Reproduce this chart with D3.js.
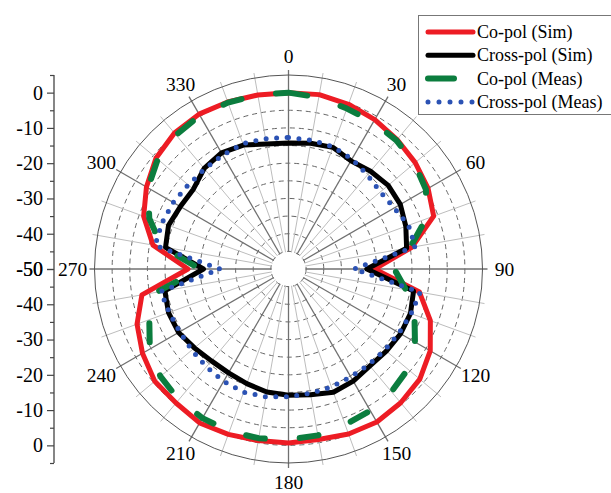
<!DOCTYPE html>
<html>
<head>
<meta charset="utf-8">
<script src="https://cdn.jsdelivr.net/npm/d3@7"></script>
<style>
body { margin: 0; background: #fff; }
svg { display: block; }
text { font-family: "Liberation Serif", "Times New Roman", serif; fill: #000; }
</style>
</head>
<body>
<script>
const angles = [0, 10, 20, 30, 40, 50, 60, 70, 80, 90, 100, 110, 120, 130, 140, 150, 160, 170,
	180, 190, 200, 210, 220, 230, 240, 250, 260, 270, 280, 290, 300, 310, 320, 330, 340, 350];

const coSim = [0, 0.2, -0.3, -1.1, -2.1, -3.1, -4.3, -6.2, -14.5, -25.6, -12.3, -7.2, -3.6, -1.4, -0.5, 0.1, -0.2, -0.9,
	-0.7, -0.6, -0.1, 0.4, -0.4, -0.5, -2.2, -4.3, -7.8, -21.5, -11, -6.3, -3.5, -1, 0.3, 0.7, 0.4, 0.1];

const crossSim = [-14.3, -13.8, -13.3, -14.6, -13.8, -13.1, -13.4, -14.6, -16, -27.8, -14, -13.2, -13.3, -13.8, -14.1, -13.3, -12.8, -13.8,
	-14.2, -14.6, -15.4, -16, -16, -15.2, -14, -13.8, -14.4, -25.9, -14.6, -13.8, -14.6, -14.8, -12.8, -12, -12.6, -14];

const coMeas = [0, -0.6, -1.6, -1.9, -2.4, -3.4, -5, -8.5, -15, -20, -16.2, -12, -8.6, -5.8, -4.6, -3.6, -3, -2.1,
	-1.6, -1.3, -1, -1.2, -1.6, -2.6, -4.6, -8, -12, -25, -13.5, -8, -4, -1.6, -0.4, 0.3, 0.2, 0.1];

const crossMeas = [-12.7, -12.9, -13.1, -14, -15.2, -16, -15.4, -13.8, -13.5, -31.5, -12.1, -13, -13.8, -14.3, -14.6, -14.7, -14.4, -14.2,
	-13.8, -13.2, -12.8, -13.2, -13.8, -14.2, -14.4, -14, -13.2, -30.6, -11.6, -11.8, -12.3, -12.9, -13, -12.7, -12.2, -12.5];

const angleLabels = [0, 30, 60, 90, 120, 150, 180, 210, 240, 270, 300, 330];
const ringLevels = [-45, -40, -35, -30, -25, -20, -15, -10, -5, 0];
const axisMajor = [0, -10, -20, -30, -40, -50];
const axisMinor = [5, -5, -15, -25, -35, -45];

const series = [
	{ name: 'Co-pol (Sim)', values: coSim, color: '#ed1c24', width: 5, dash: null },
	{ name: 'Cross-pol (Sim)', values: crossSim, color: '#000000', width: 5, dash: null },
	{ name: 'Co-pol (Meas)', values: coMeas, color: '#0b7d3e', width: 6, dash: '19,35' },
	{ name: 'Cross-pol (Meas)', values: crossMeas, color: '#2b52b4', width: 5, dash: '0,10.5' }
];

const w = 611;
const h = 493;
const cx = 288.5;
const cy = 269;
const rad = Math.PI / 180;

const r = d3.scaleLinear().domain([-50, 5]).range([0, 194]);

const svg = d3.select('body').append('svg')
	.attr('width', w)
	.attr('height', h);

const g = svg.append('g')
	.attr('transform', `translate(${cx},${cy})`);

// dashed rings
g.selectAll('.ring')
	.data(ringLevels)
	.enter()
	.append('circle')
	.attr('class', 'ring')
	.attr('r', d => r(d))
	.attr('fill', 'none')
	.attr('stroke', '#666')
	.attr('stroke-width', 1)
	.attr('stroke-dasharray', '5,4');

// spokes
g.selectAll('.spoke')
	.data(angles)
	.enter()
	.append('line')
	.attr('class', 'spoke')
	.attr('x1', d => Math.sin(d * rad) * 17)
	.attr('y1', d => -Math.cos(d * rad) * 17)
	.attr('x2', d => Math.sin(d * rad) * (r(5) + 5))
	.attr('y2', d => -Math.cos(d * rad) * (r(5) + 5))
	.attr('stroke', d => d % 30 === 0 ? '#707070' : '#bdbdbd')
	.attr('stroke-width', d => d % 30 === 0 ? 1.3 : 1);

// outer circle
g.append('circle')
	.attr('r', r(5))
	.attr('fill', 'none')
	.attr('stroke', '#555')
	.attr('stroke-width', 1);

// angle labels
g.selectAll('.alabel')
	.data(angleLabels)
	.enter()
	.append('text')
	.attr('class', 'alabel')
	.attr('x', d => Math.sin(d * rad) * 216)
	.attr('y', d => -Math.cos(d * rad) * 213)
	.attr('text-anchor', 'middle')
	.attr('dominant-baseline', 'central')
	.style('font-size', '19.5px')
	.text(d => d);

// traces
const line = d3.lineRadial()
	.angle((d, i) => angles[i] * rad)
	.radius(d => r(d))
	.curve(d3.curveLinearClosed);

g.selectAll('.trace')
	.data(series)
	.enter()
	.append('path')
	.attr('class', 'trace')
	.attr('d', d => line(d.values))
	.attr('fill', 'none')
	.attr('stroke', d => d.color)
	.attr('stroke-width', d => d.width)
	.attr('stroke-linecap', 'round')
	.attr('stroke-linejoin', 'round')
	.attr('stroke-dasharray', d => d.dash);

// left radial axis, mirrored about the centre
const yTop = d3.scaleLinear().domain([-50, 5]).range([cy, cy - r(5)]);
const yBot = d3.scaleLinear().domain([-50, 5]).range([cy, cy + r(5)]);

const axisG = svg.append('g').attr('transform', 'translate(54,0)');

[yTop, yBot].forEach(s => {
	axisG.append('g')
		.call(d3.axisLeft(s).tickValues(axisMajor).tickSize(7).tickSizeOuter(0).tickPadding(4).tickFormat(d => d))
		.call(a => a.select('.domain').remove())
		.call(a => a.selectAll('text').style('font-size', '20px').attr('font-family', null))
		.call(a => a.selectAll('line').attr('stroke', '#444').attr('stroke-width', 1.2));
	axisG.append('g')
		.call(d3.axisLeft(s).tickValues(axisMinor).tickSize(4).tickSizeOuter(0).tickFormat(''))
		.call(a => a.select('.domain').remove())
		.call(a => a.selectAll('line').attr('stroke', '#444').attr('stroke-width', 1.2));
});

axisG.append('line')
	.attr('y1', yTop(5))
	.attr('y2', yBot(5))
	.attr('stroke', '#444')
	.attr('stroke-width', 1.3);

// legend
const legend = svg.append('g');
legend.append('rect')
	.attr('x', 418.5)
	.attr('y', 15.5)
	.attr('width', 200)
	.attr('height', 99)
	.attr('fill', '#fff')
	.attr('stroke', '#777')
	.attr('stroke-width', 1);

const rows = legend.selectAll('.row')
	.data(series)
	.enter()
	.append('g')
	.attr('class', 'row')
	.attr('transform', (d, i) => `translate(0,${32 + i * 23.3})`);

rows.append('line')
	.attr('x1', 428)
	.attr('x2', d => d.dash && d.dash[0] === '1' ? 454 : 473)
	.attr('stroke', d => d.color)
	.attr('stroke-width', d => d.width)
	.attr('stroke-linecap', 'round')
	.attr('stroke-dasharray', d => d.dash && d.dash[0] === '0' ? '0,11' : null);

rows.append('text')
	.attr('x', 477)
	.attr('dy', '0.33em')
	.style('font-size', '18px')
	.text(d => d.name);
</script>
</body>
</html>
